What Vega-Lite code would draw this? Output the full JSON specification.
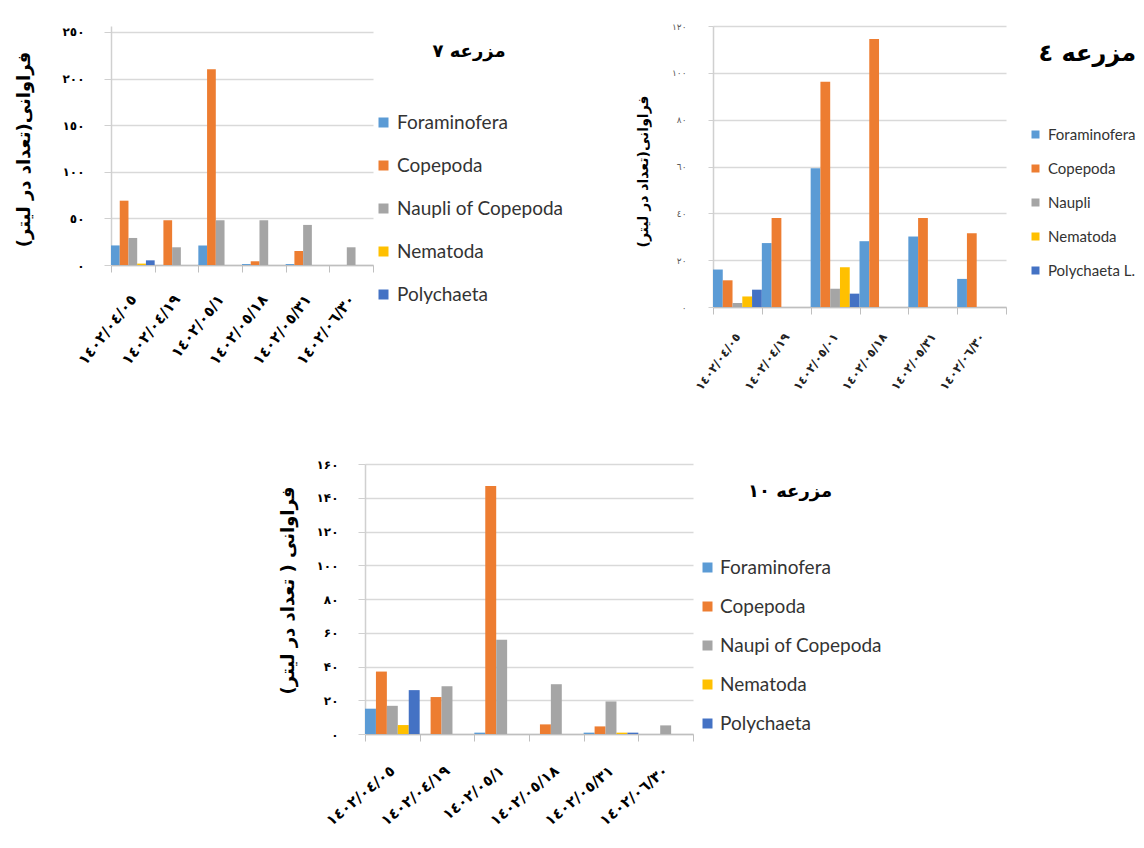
{
  "$schema": "https://vega.github.io/schema/vega-lite/v6.json",
  "background": "white",
  "padding": {"left": 14, "top": 22, "right": 0, "bottom": 0},
  "config": {"view": {"stroke": null}, "font": "DejaVu Sans"},
  "datasets": {
    "f7": [
      {"date": "١٤٠٢/٠٤/٠٥", "taxon": "Foraminofera", "value": 21},
      {"date": "١٤٠٢/٠٤/٠٥", "taxon": "Copepoda", "value": 69},
      {"date": "١٤٠٢/٠٤/٠٥", "taxon": "Naupli of Copepoda", "value": 29},
      {"date": "١٤٠٢/٠٤/٠٥", "taxon": "Nematoda", "value": 1.5},
      {"date": "١٤٠٢/٠٤/٠٥", "taxon": "Polychaeta", "value": 5},
      {"date": "١٤٠٢/٠٤/١٩", "taxon": "Copepoda", "value": 48},
      {"date": "١٤٠٢/٠٤/١٩", "taxon": "Naupli of Copepoda", "value": 19},
      {"date": "١٤٠٢/٠٥/١", "taxon": "Foraminofera", "value": 21},
      {"date": "١٤٠٢/٠٥/١", "taxon": "Copepoda", "value": 210},
      {"date": "١٤٠٢/٠٥/١", "taxon": "Naupli of Copepoda", "value": 48},
      {"date": "١٤٠٢/٠٥/١٨", "taxon": "Foraminofera", "value": 1},
      {"date": "١٤٠٢/٠٥/١٨", "taxon": "Copepoda", "value": 4},
      {"date": "١٤٠٢/٠٥/١٨", "taxon": "Naupli of Copepoda", "value": 48},
      {"date": "١٤٠٢/٠٥/٣١", "taxon": "Foraminofera", "value": 1},
      {"date": "١٤٠٢/٠٥/٣١", "taxon": "Copepoda", "value": 15},
      {"date": "١٤٠٢/٠٥/٣١", "taxon": "Naupli of Copepoda", "value": 43},
      {"date": "١٤٠٢/٠٦/٣٠", "taxon": "Naupli of Copepoda", "value": 19}
    ],
    "f4": [
      {"date": "١٤٠٢/٠٤/٠٥", "taxon": "Foraminofera", "value": 16},
      {"date": "١٤٠٢/٠٤/٠٥", "taxon": "Copepoda", "value": 11.4},
      {"date": "١٤٠٢/٠٤/٠٥", "taxon": "Naupli", "value": 1.7},
      {"date": "١٤٠٢/٠٤/٠٥", "taxon": "Nematoda", "value": 4.5},
      {"date": "١٤٠٢/٠٤/٠٥", "taxon": "Polychaeta L.", "value": 7.4},
      {"date": "١٤٠٢/٠٤/١٩", "taxon": "Foraminofera", "value": 27.3},
      {"date": "١٤٠٢/٠٤/١٩", "taxon": "Copepoda", "value": 38},
      {"date": "١٤٠٢/٠٥/٠١", "taxon": "Foraminofera", "value": 59.3},
      {"date": "١٤٠٢/٠٥/٠١", "taxon": "Copepoda", "value": 96.2},
      {"date": "١٤٠٢/٠٥/٠١", "taxon": "Naupli", "value": 7.8},
      {"date": "١٤٠٢/٠٥/٠١", "taxon": "Nematoda", "value": 17},
      {"date": "١٤٠٢/٠٥/٠١", "taxon": "Polychaeta L.", "value": 5.7},
      {"date": "١٤٠٢/٠٥/١٨", "taxon": "Foraminofera", "value": 28.1},
      {"date": "١٤٠٢/٠٥/١٨", "taxon": "Copepoda", "value": 114.4},
      {"date": "١٤٠٢/٠٥/٣١", "taxon": "Foraminofera", "value": 30.1},
      {"date": "١٤٠٢/٠٥/٣١", "taxon": "Copepoda", "value": 38},
      {"date": "١٤٠٢/٠٦/٣٠", "taxon": "Foraminofera", "value": 12},
      {"date": "١٤٠٢/٠٦/٣٠", "taxon": "Copepoda", "value": 31.5}
    ],
    "f10": [
      {"date": "١٤٠٢/٠٤/٠٥", "taxon": "Foraminofera", "value": 15},
      {"date": "١٤٠٢/٠٤/٠٥", "taxon": "Copepoda", "value": 37},
      {"date": "١٤٠٢/٠٤/٠٥", "taxon": "Naupi of Copepoda", "value": 16.7},
      {"date": "١٤٠٢/٠٤/٠٥", "taxon": "Nematoda", "value": 5.3},
      {"date": "١٤٠٢/٠٤/٠٥", "taxon": "Polychaeta", "value": 26},
      {"date": "١٤٠٢/٠٤/١٩", "taxon": "Copepoda", "value": 21.9},
      {"date": "١٤٠٢/٠٤/١٩", "taxon": "Naupi of Copepoda", "value": 28.3},
      {"date": "١٤٠٢/٠٥/١", "taxon": "Foraminofera", "value": 0.8},
      {"date": "١٤٠٢/٠٥/١", "taxon": "Copepoda", "value": 147},
      {"date": "١٤٠٢/٠٥/١", "taxon": "Naupi of Copepoda", "value": 55.9},
      {"date": "١٤٠٢/٠٥/١٨", "taxon": "Copepoda", "value": 5.7},
      {"date": "١٤٠٢/٠٥/١٨", "taxon": "Naupi of Copepoda", "value": 29.5},
      {"date": "١٤٠٢/٠٥/٣١", "taxon": "Foraminofera", "value": 0.8},
      {"date": "١٤٠٢/٠٥/٣١", "taxon": "Copepoda", "value": 4.5},
      {"date": "١٤٠٢/٠٥/٣١", "taxon": "Naupi of Copepoda", "value": 19.3},
      {"date": "١٤٠٢/٠٥/٣١", "taxon": "Nematoda", "value": 0.8},
      {"date": "١٤٠٢/٠٥/٣١", "taxon": "Polychaeta", "value": 0.8},
      {"date": "١٤٠٢/٠٦/٣٠", "taxon": "Naupi of Copepoda", "value": 5.1}
    ]
  },
  "center": true,
  "spacing": 65,
  "resolve": {"scale": {"color": "independent", "x": "independent", "y": "independent", "xOffset": "independent"}, "legend": {"color": "independent"}, "axis": {"x": "independent", "y": "independent"}},
  "vconcat": [
    {
      "spacing": 72,
      "resolve": {"scale": {"color": "independent", "x": "independent", "y": "independent", "xOffset": "independent"}, "legend": {"color": "independent"}, "axis": {"x": "independent", "y": "independent"}},
      "hconcat": [
        {
          "width": 262,
          "height": 239,
          "data": {"name": "f7"},
          "mark": {"type": "bar"},
          "encoding": {
            "x": {"field": "date", "type": "nominal",
              "scale": {"domain": ["١٤٠٢/٠٤/٠٥", "١٤٠٢/٠٤/١٩", "١٤٠٢/٠٥/١", "١٤٠٢/٠٥/١٨", "١٤٠٢/٠٥/٣١", "١٤٠٢/٠٦/٣٠"], "paddingInner": 0, "paddingOuter": 0},
              "axis": {"title": null, "tickBand": "extent", "tickSize": 7, "tickColor": "#bfbfbf", "domainColor": "#bfbfbf", "domainWidth": 1.5, "labelAngle": -52, "labelAlign": "right", "labelBaseline": "middle", "labelFont": "DejaVu Sans", "labelFontSize": 15, "labelFontWeight": "bold", "labelColor": "#000", "labelPadding": 24, "labelLimit": 200}},
            "xOffset": {"field": "taxon", "type": "nominal", "scale": {"domain": ["Foraminofera", "Copepoda", "Naupli of Copepoda", "Nematoda", "Polychaeta"], "paddingInner": 0, "paddingOuter": 0}},
            "y": {"field": "value", "type": "quantitative",
              "scale": {"domain": [0, 256.4], "nice": false},
              "axis": {"title": "فراوانی(تعداد در لیتر)\u200f", "titleFont": "DejaVu Sans", "titleFontSize": 18, "titleFontWeight": "bold", "titleColor": "#000", "titleX": -87, "titleY": 123, "titleAngle": -90, "titleBaseline": "middle", "titleAlign": "center",
                "values": [0, 50, 100, 150, 200, 250],
                "labelExpr": "replace(replace(replace(replace(replace(replace(replace(replace(replace(replace(datum.label,regexp('0','g'),'٠'),regexp('1','g'),'١'),regexp('2','g'),'٢'),regexp('3','g'),'٣'),regexp('4','g'),'٤'),regexp('5','g'),'٥'),regexp('6','g'),'٦'),regexp('7','g'),'٧'),regexp('8','g'),'٨'),regexp('9','g'),'٩')",
                "labelFont": "DejaVu Sans", "labelFontSize": 12, "labelFontWeight": "bold", "labelColor": "#000", "labelPadding": 20, "tickSize": 7, "tickColor": "#d0d0d0", "domainColor": "#d0d0d0", "domainWidth": 1.5, "grid": true, "gridColor": "#d9d9d9", "gridWidth": 1.5}},
            "color": {"field": "taxon", "type": "nominal",
              "scale": {"domain": ["Foraminofera", "Copepoda", "Naupli of Copepoda", "Nematoda", "Polychaeta"], "range": ["#5B9BD5", "#ED7D31", "#A5A5A5", "#FFC000", "#4472C4"]},
              "legend": {"title": "مزرعه ٧", "orient": "none", "legendX": 263, "legendY": 17, "titleAnchor": "middle", "titleFont": "DejaVu Sans", "titleFontSize": 18, "titleFontWeight": "bold", "titleColor": "#000", "titlePadding": 52, "titleLimit": 400,
                "labelFont": "Lato", "labelFontSize": 19, "labelColor": "#333", "labelLimit": 400, "labelOffset": 4,
                "symbolType": "square", "symbolSize": 100, "symbolStrokeWidth": 0, "rowPadding": 23, "padding": 0}}
          }
        },
        {
          "width": 293,
          "height": 281,
          "data": {"name": "f4"},
          "mark": {"type": "bar"},
          "encoding": {
            "x": {"field": "date", "type": "nominal",
              "scale": {"domain": ["١٤٠٢/٠٤/٠٥", "١٤٠٢/٠٤/١٩", "١٤٠٢/٠٥/٠١", "١٤٠٢/٠٥/١٨", "١٤٠٢/٠٥/٣١", "١٤٠٢/٠٦/٣٠"], "paddingInner": 0, "paddingOuter": 0},
              "axis": {"title": null, "tickBand": "extent", "tickSize": 7, "tickColor": "#bfbfbf", "domainColor": "#bfbfbf", "domainWidth": 1.5, "labelAngle": -54, "labelAlign": "right", "labelBaseline": "middle", "labelFont": "DejaVu Sans", "labelFontSize": 12, "labelFontWeight": "bold", "labelColor": "#222", "labelPadding": 20, "labelLimit": 200}},
            "xOffset": {"field": "taxon", "type": "nominal", "scale": {"domain": ["Foraminofera", "Copepoda", "Naupli", "Nematoda", "Polychaeta L."], "paddingInner": 0, "paddingOuter": 0}},
            "y": {"field": "value", "type": "quantitative",
              "scale": {"domain": [0, 120], "nice": false},
              "axis": {"title": "فراوانی(تعداد در لیتر)\u200f", "titleFont": "DejaVu Sans", "titleFontSize": 14, "titleFontWeight": "bold", "titleColor": "#000", "titleX": -70, "titleY": 145, "titleAngle": -90, "titleBaseline": "middle", "titleAlign": "center",
                "values": [0, 20, 40, 60, 80, 100, 120],
                "labelExpr": "replace(replace(replace(replace(replace(replace(replace(replace(replace(replace(datum.label,regexp('0','g'),'٠'),regexp('1','g'),'١'),regexp('2','g'),'٢'),regexp('3','g'),'٣'),regexp('4','g'),'٤'),regexp('5','g'),'٥'),regexp('6','g'),'٦'),regexp('7','g'),'٧'),regexp('8','g'),'٨'),regexp('9','g'),'٩')",
                "labelFont": "DejaVu Sans", "labelFontSize": 9, "labelColor": "#595959", "labelPadding": 22, "tickSize": 5, "tickColor": "#d0d0d0", "domainColor": "#d0d0d0", "domainWidth": 1.5, "grid": true, "gridColor": "#d9d9d9", "gridWidth": 1.5}},
            "color": {"field": "taxon", "type": "nominal",
              "scale": {"domain": ["Foraminofera", "Copepoda", "Naupli", "Nematoda", "Polychaeta L."], "range": ["#5B9BD5", "#ED7D31", "#A5A5A5", "#FFC000", "#4472C4"]},
              "legend": {"title": "مزرعه ٤", "orient": "none", "legendX": 315, "legendY": 16, "titleAnchor": "end", "titleFont": "DejaVu Sans", "titleFontSize": 24, "titleFontWeight": "bold", "titleColor": "#000", "titlePadding": 61, "titleLimit": 400,
                "labelFont": "Lato", "labelFontSize": 15, "labelColor": "#333", "labelLimit": 400, "labelOffset": 5,
                "symbolType": "square", "symbolSize": 64, "symbolStrokeWidth": 0, "rowPadding": 18, "padding": 0}}
          }
        }
      ]
    },
    {
      "width": 328,
      "height": 270,
      "data": {"name": "f10"},
      "mark": {"type": "bar"},
      "encoding": {
        "x": {"field": "date", "type": "nominal",
          "scale": {"domain": ["١٤٠٢/٠٤/٠٥", "١٤٠٢/٠٤/١٩", "١٤٠٢/٠٥/١", "١٤٠٢/٠٥/١٨", "١٤٠٢/٠٥/٣١", "١٤٠٢/٠٦/٣٠"], "paddingInner": 0, "paddingOuter": 0},
          "axis": {"title": null, "tickBand": "extent", "tickSize": 7, "tickColor": "#bfbfbf", "domainColor": "#bfbfbf", "domainWidth": 1.5, "labelAngle": -40, "labelAlign": "right", "labelBaseline": "middle", "labelFont": "DejaVu Sans", "labelFontSize": 15, "labelFontWeight": "bold", "labelColor": "#000", "labelPadding": 27, "labelLimit": 200}},
        "xOffset": {"field": "taxon", "type": "nominal", "scale": {"domain": ["Foraminofera", "Copepoda", "Naupi of Copepoda", "Nematoda", "Polychaeta"], "paddingInner": 0, "paddingOuter": 0}},
        "y": {"field": "value", "type": "quantitative",
          "scale": {"domain": [0, 160], "nice": false},
          "axis": {"title": "فراوانی ( تعداد در لیتر)\u200f", "titleFont": "DejaVu Sans", "titleFontSize": 18, "titleFontWeight": "bold", "titleColor": "#000", "titleX": -77, "titleY": 126, "titleAngle": -90, "titleBaseline": "middle", "titleAlign": "center",
            "values": [0, 20, 40, 60, 80, 100, 120, 140, 160],
            "labelExpr": "replace(replace(replace(replace(replace(replace(replace(replace(replace(replace(datum.label,regexp('0','g'),'۰'),regexp('1','g'),'۱'),regexp('2','g'),'۲'),regexp('3','g'),'۳'),regexp('4','g'),'۴'),regexp('5','g'),'۵'),regexp('6','g'),'۶'),regexp('7','g'),'۷'),regexp('8','g'),'۸'),regexp('9','g'),'۹')",
            "labelFont": "DejaVu Sans", "labelFontSize": 12, "labelFontWeight": "bold", "labelColor": "#000", "labelPadding": 20, "tickSize": 7, "tickColor": "#d0d0d0", "domainColor": "#d0d0d0", "domainWidth": 1.5, "grid": true, "gridColor": "#d9d9d9", "gridWidth": 1.5}},
        "color": {"field": "taxon", "type": "nominal",
          "scale": {"domain": ["Foraminofera", "Copepoda", "Naupi of Copepoda", "Nematoda", "Polychaeta"], "range": ["#5B9BD5", "#ED7D31", "#A5A5A5", "#FFC000", "#4472C4"]},
          "legend": {"title": "مزرعه ١٠", "orient": "none", "legendX": 333, "legendY": 19, "titleAnchor": "middle", "titleFont": "DejaVu Sans", "titleFontSize": 18, "titleFontWeight": "bold", "titleColor": "#000", "titlePadding": 57, "titleLimit": 400,
            "labelFont": "Lato", "labelFontSize": 19, "labelColor": "#333", "labelLimit": 400, "labelOffset": 3,
            "symbolType": "square", "symbolSize": 100, "symbolStrokeWidth": 0, "rowPadding": 19, "padding": 0}}
      }
    }
  ]
}
